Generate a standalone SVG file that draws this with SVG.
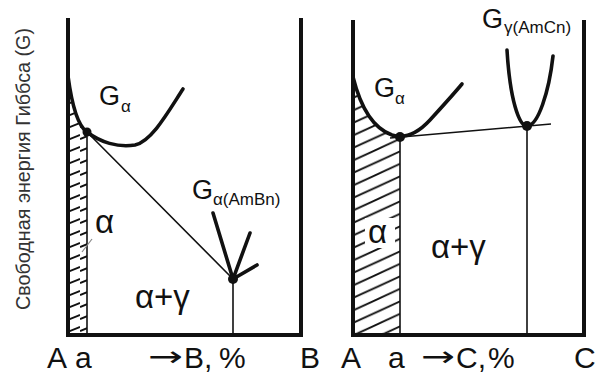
<svg xmlns="http://www.w3.org/2000/svg" width="599" height="374" viewBox="0 0 599 374">
<defs>
<style>
text{font-family:"Liberation Sans",Arial,sans-serif;fill:#111}
.big{font-size:30px}
.arrow{font-family:"DejaVu Sans",sans-serif;font-size:28px}
.g{font-size:27px}
.sub{font-size:17px}
.lbl{font-size:33px}
.axis{stroke:#111;stroke-width:4;fill:none}
.curve{stroke:#111;stroke-width:3.6;fill:none;stroke-linecap:round}
.thin{stroke:#111;stroke-width:1.6;fill:none}
.hatch{stroke:#111;stroke-width:1.9}
.dot{fill:#111}
</style>
<clipPath id="clipL"><path d="M68,76 C72,106 78,126 87,132 L87,335 L68,335 Z"/></clipPath>
<clipPath id="clipR"><path d="M353,77 C360,105 372,128 392,135 L400,137 L400,335 L353,335 Z"/></clipPath>
<pattern id="hatchL" patternUnits="userSpaceOnUse" width="40" height="12" patternTransform="translate(0,3)">
<line x1="0" y1="16" x2="40" y2="0" class="hatch"/>
<line x1="0" y1="4" x2="40" y2="-12" class="hatch"/>
<line x1="0" y1="28" x2="40" y2="12" class="hatch"/>
</pattern>
<pattern id="hatchR" patternUnits="userSpaceOnUse" width="50" height="12.5" patternTransform="translate(3,0)">
<line x1="0" y1="23" x2="50" y2="0" class="hatch"/>
<line x1="0" y1="10.5" x2="50" y2="-12.5" class="hatch"/>
<line x1="0" y1="35.5" x2="50" y2="12.5" class="hatch"/>
</pattern>
</defs>
<rect width="599" height="374" fill="#fff"/>
<text transform="translate(30,310) rotate(-90)" style="font-size:20px;fill:#333" textLength="282" lengthAdjust="spacingAndGlyphs">Свободная энергия Гиббса (G)</text>

<g id="panel-left">
<rect x="68" y="60" width="19" height="275" fill="url(#hatchL)" clip-path="url(#clipL)"/>
<path class="axis" d="M68,18 L68,335 L301,335 M301,18 L301,337"/>
</g>
<g id="panel-right">
<rect x="353" y="60" width="47" height="275" fill="url(#hatchR)" clip-path="url(#clipR)"/>
<rect x="365" y="218" width="30" height="30" fill="#fff"/>
<path class="axis" d="M353,20 L353,335 L584,335 M584,20 L584,337"/>
</g>

<g id="connectors">
<path class="thin" d="M87,132 L87,335"/>
<path class="thin" d="M87,132 L233,279 L233,335"/>
<path class="thin" d="M400,137 L400,335"/>
<path class="thin" d="M390,138 L551,124"/>
<path class="thin" d="M527,126 L527,335"/>
<path class="thin" d="M82,252 L92,239" style="stroke:#888;stroke-width:1.2"/>
</g>

<g id="curve-G-alpha-left">
<path class="curve" d="M68,76 C72,106 78,126 87,132 C100,142 118,148 135,145 C152,141 168,112 183,89"/>
<circle class="dot" cx="87" cy="132" r="4.5"/>
<text x="99" y="105" class="g">G</text><text x="121" y="112" class="sub">α</text>
</g>
<g id="curve-G-alpha-AmBn">
<path class="curve" d="M213,213 L233,279 L250,233 M233,279 L257,265"/>
<circle class="dot" cx="233" cy="279" r="5"/>
<text x="192" y="199" class="g">G</text><text x="213" y="205" class="sub">α(AmBn)</text>
</g>
<g id="curve-G-alpha-right">
<path class="curve" d="M353,77 C360,105 372,128 392,135 C405,139 418,133 430,120 C440,109 452,96 462,84"/>
<circle class="dot" cx="400" cy="137" r="5"/>
<text x="374" y="97" class="g">G</text><text x="395" y="104" class="sub">α</text>
</g>
<g id="curve-G-gamma-AmCn">
<path class="curve" d="M507,50 C510,100 519,126 527,126 C538,126 549,92 553,56"/>
<circle class="dot" cx="527" cy="126" r="5"/>
<text x="482" y="28" class="g">G</text><text x="504" y="33" class="sub">γ(AmCn)</text>
</g>

<g id="region-labels">
<text x="95" y="233" class="lbl">α</text>
<text x="135" y="308" class="lbl">α+γ</text>
<text x="368" y="243" class="lbl">α</text>
<text x="431" y="258" class="lbl">α+γ</text>
</g>
<g id="axis-labels">
<text x="47" y="368" class="big">A</text>
<text x="75" y="368" class="big">a</text>
<text x="148" y="366" class="arrow" textLength="35" lengthAdjust="spacingAndGlyphs">→</text>
<text y="368" class="big"><tspan x="184">B,</tspan><tspan x="219">%</tspan></text>
<text x="300" y="368" class="big">B</text>
<text x="341" y="368" class="big">A</text>
<text x="388" y="368" class="big">a</text>
<text x="421" y="366" class="arrow" textLength="34" lengthAdjust="spacingAndGlyphs">→</text>
<text y="368" class="big"><tspan x="456">C,</tspan><tspan x="488">%</tspan></text>
<text x="574" y="368" class="big">C</text>
</g>
</svg>
